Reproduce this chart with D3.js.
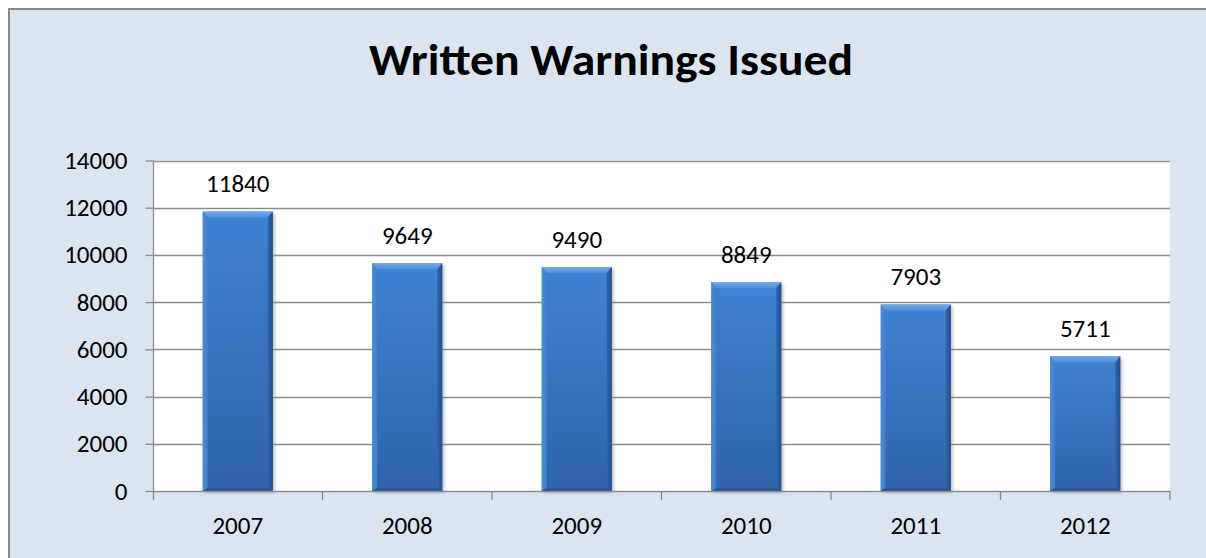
<!DOCTYPE html>
<html>
<head>
<meta charset="utf-8">
<script src="https://cdn.jsdelivr.net/npm/d3@7"></script>
<style>
  html, body { margin: 0; padding: 0; background: #ffffff; overflow: hidden; }
  svg { display: block; }
  text { font-family: Carlito, Lato, "Open Sans", sans-serif; fill: #000; }
</style>
</head>
<body>
<svg id="chart" width="1206" height="558"></svg>
<script>
// Chart data
const years = ["2007", "2008", "2009", "2010", "2011", "2012"];
const warnings = [11840, 9649, 9490, 8849, 7903, 5711];
const yTicks = [0, 2000, 4000, 6000, 8000, 10000, 12000, 14000];
const chartTitle = "Written Warnings Issued";

const svg = d3.select("#chart");
const W = 1206, H = 558;
const labelSize = 25;

// Plot area bounds
const plot = { left: 153, right: 1170, top: 160.5, bottom: 491 };

// Chart frame: light blue panel, grey border on the top and left edges
svg.append("rect")
  .attr("x", 9).attr("y", 9)
  .attr("width", W - 9).attr("height", H - 9)
  .attr("fill", "#dbe5f1");
svg.append("path")
  .attr("d", `M9,${H}V9H${W}`)
  .attr("fill", "none")
  .attr("stroke", "#8a8a8a")
  .attr("stroke-width", 2);

// Title, fitted to its width
svg.append("text")
  .attr("x", 611).attr("y", 75)
  .attr("text-anchor", "middle")
  .attr("font-size", 44)
  .attr("font-weight", "bold")
  .attr("textLength", 484)
  .attr("lengthAdjust", "spacingAndGlyphs")
  .text(chartTitle);

// Scales
const x = d3.scaleBand()
  .domain(years)
  .range([plot.left, plot.right])
  .paddingInner(0.587)
  .paddingOuter(0.2935);

const xCat = d3.scaleBand()
  .domain(years)
  .range([plot.left, plot.right]);

const y = d3.scaleLinear()
  .domain([0, 14000])
  .range([plot.bottom, plot.top]);

// Plot area background
svg.append("rect")
  .attr("x", plot.left).attr("y", plot.top)
  .attr("width", plot.right - plot.left)
  .attr("height", plot.bottom - plot.top)
  .attr("fill", "#ffffff");

// Gridlines
svg.append("g")
  .selectAll("line")
  .data(yTicks.filter(d => d > 0))
  .join("line")
  .attr("x1", plot.left).attr("x2", plot.right)
  .attr("y1", d => Math.round(y(d)) + 0.5)
  .attr("y2", d => Math.round(y(d)) + 0.5)
  .attr("stroke", "#8c8c8c")
  .attr("stroke-width", 1.3);

// Gradients for the bevelled bars
const defs = svg.append("defs");
function linGrad(id, x1, y1, x2, y2, stops) {
  const g = defs.append("linearGradient").attr("id", id)
    .attr("x1", x1).attr("y1", y1).attr("x2", x2).attr("y2", y2);
  stops.forEach(s => g.append("stop").attr("offset", s[0]).attr("stop-color", s[1]));
}
linGrad("bodyV", 0, 0, 0, 1, [[0, "#4083d3"], [1, "#2f63ab"]]);
linGrad("bevTop", 0, 0, 0, 1, [[0, "#76aae8"], [1, "#4c8fdb"]]);
linGrad("bevLeft", 0, 0, 1, 0, [[0, "#4d8cd6"], [1, "#3d7ecd"]]);
linGrad("bevRight", 0, 0, 1, 0, [[0, "#2f66b0"], [1, "#214e8c"]]);
linGrad("bevBottom", 0, 0, 0, 1, [[0, "#2c5ea6"], [1, "#1f4885"]]);
const shadowFilter = defs.append("filter").attr("id", "shadow")
  .attr("x", "-10%").attr("y", "-10%").attr("width", "130%").attr("height", "130%");
shadowFilter.append("feGaussianBlur").attr("stdDeviation", 1.5);

// Bars
const bars = svg.append("g")
  .selectAll("g")
  .data(years.map((yr, i) => ({ yr, v: warnings[i] })))
  .join("g");

const bw = x.bandwidth();
const bev = 6, bevS = 5;

bars.append("rect")
  .attr("x", d => x(d.yr) + 2)
  .attr("y", d => y(d.v) + 2)
  .attr("width", bw)
  .attr("height", d => plot.bottom - y(d.v))
  .attr("fill", "#7f7f7f")
  .attr("opacity", 0.5)
  .attr("filter", "url(#shadow)");

bars.append("rect")
  .attr("x", d => x(d.yr))
  .attr("y", d => y(d.v))
  .attr("width", bw)
  .attr("height", d => plot.bottom - y(d.v))
  .attr("fill", "url(#bodyV)");

// top bevel
bars.append("path")
  .attr("d", d => {
    const x0 = x(d.yr), x1 = x0 + bw, t = y(d.v);
    return `M${x0},${t}L${x1},${t}L${x1 - bevS},${t + bev}L${x0 + bevS},${t + bev}Z`;
  })
  .attr("fill", "url(#bevTop)");
// left bevel
bars.append("path")
  .attr("d", d => {
    const x0 = x(d.yr), t = y(d.v), b = plot.bottom;
    return `M${x0},${t}L${x0 + bevS},${t + bev}L${x0 + bevS},${b - 3}L${x0},${b}Z`;
  })
  .attr("fill", "url(#bevLeft)");
// right bevel
bars.append("path")
  .attr("d", d => {
    const x1 = x(d.yr) + bw, t = y(d.v), b = plot.bottom;
    return `M${x1},${t}L${x1 - bevS},${t + bev}L${x1 - bevS},${b - 3}L${x1},${b}Z`;
  })
  .attr("fill", "url(#bevRight)");
// bottom bevel
bars.append("path")
  .attr("d", d => {
    const x0 = x(d.yr), x1 = x0 + bw, b = plot.bottom;
    return `M${x0},${b}L${x1},${b}L${x1 - bevS},${b - 3}L${x0 + bevS},${b - 3}Z`;
  })
  .attr("fill", "url(#bevBottom)");

// Value labels
bars.append("text")
  .attr("x", d => x(d.yr) + bw / 2)
  .attr("y", d => y(d.v) - 19)
  .attr("text-anchor", "middle")
  .attr("font-size", labelSize)
  .text(d => d.v);

// Y axis
const yAxis = svg.append("g")
  .attr("transform", `translate(${plot.left + 0.5},0)`)
  .call(d3.axisLeft(y).tickValues(yTicks).tickSize(8).tickPadding(18).tickFormat(d3.format("d")));
yAxis.select(".domain").remove();
yAxis.selectAll(".tick line").attr("stroke", "#8c8c8c").attr("stroke-width", 1.3);
yAxis.selectAll(".tick text").attr("font-size", labelSize).attr("font-family", "Carlito, Lato, 'Open Sans', sans-serif").attr("fill", "#000");
yAxis.append("line")
  .attr("x1", 0).attr("x2", 0)
  .attr("y1", plot.top).attr("y2", plot.bottom + 9)
  .attr("stroke", "#8c8c8c").attr("stroke-width", 1.3);

// X axis (ticks on category boundaries)
const xAxisG = svg.append("g");
xAxisG.append("line")
  .attr("x1", plot.left).attr("x2", plot.right)
  .attr("y1", plot.bottom + 0.5).attr("y2", plot.bottom + 0.5)
  .attr("stroke", "#8c8c8c").attr("stroke-width", 1.3);
const bounds = years.map(yr => xCat(yr) + xCat.bandwidth());
xAxisG.selectAll("line.tk")
  .data(bounds)
  .join("line")
  .attr("class", "tk")
  .attr("x1", d => d).attr("x2", d => d)
  .attr("y1", plot.bottom).attr("y2", plot.bottom + 9)
  .attr("stroke", "#8c8c8c").attr("stroke-width", 1.3);
xAxisG.selectAll("text")
  .data(years)
  .join("text")
  .attr("x", d => xCat(d) + xCat.bandwidth() / 2)
  .attr("y", 534)
  .attr("text-anchor", "middle")
  .attr("font-size", labelSize)
  .text(d => d);
</script>
</body>
</html>
